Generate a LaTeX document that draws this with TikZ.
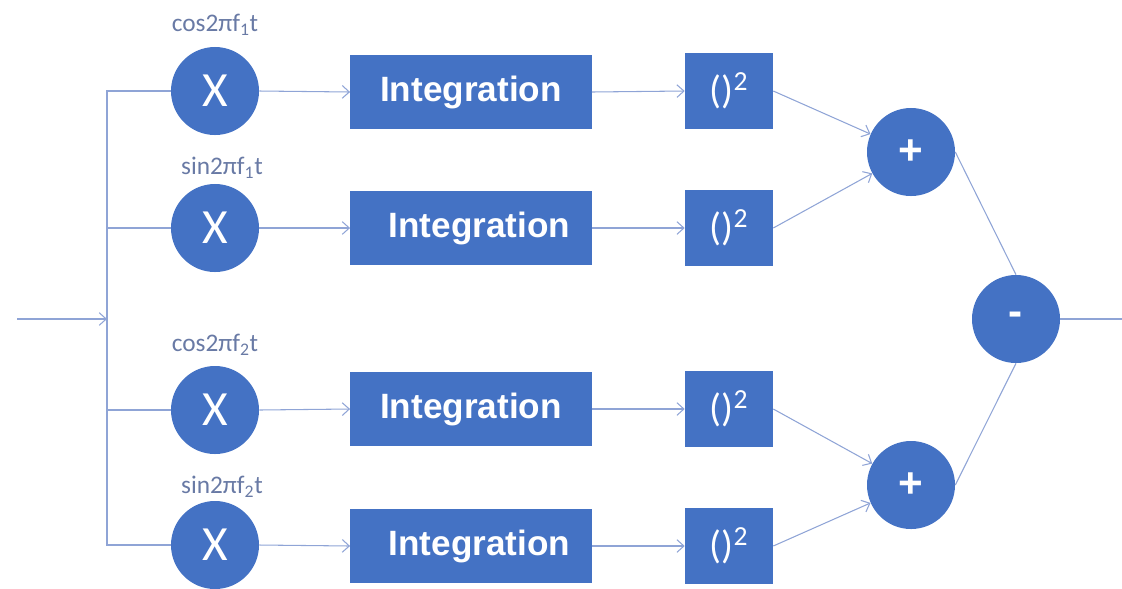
\documentclass[tikz,border=0pt]{standalone}
\usepackage{fontspec}
\setmainfont{Carlito}
\newfontfamily\blockfont{Liberation Sans}
\usetikzlibrary{arrows.meta, positioning}
\definecolor{blockblue}{RGB}{68,114,196}
\definecolor{wireblue}{RGB}{143,164,214}
\definecolor{labelgray}{RGB}{105,122,165}

\begin{document}
\begin{tikzpicture}[x=0.025cm, y=-0.025cm,
  mult/.style={circle, fill=blockblue, minimum size=2.2cm, inner sep=0pt, text=white, font=\fontsize{35}{35}\selectfont},
  sumnode/.style={mult, font=\blockfont\bfseries\fontsize{30}{30}\selectfont},
  integ/.style={rectangle, fill=blockblue, minimum width=6.03cm, minimum height=1.85cm, text=white, font=\blockfont\bfseries\fontsize{25}{25}\selectfont},
  sqbox/.style={rectangle, fill=blockblue, minimum width=2.2cm, minimum height=1.9cm, text=white, font=\fontsize{28}{28}\selectfont},
  carrier/.style={text=labelgray, font=\fontsize{18}{18}\selectfont},
  wire/.style={draw=wireblue, line width=0.75pt},
  feed/.style={wire, -{Straight Barb[length=5pt, width=9pt]}},
]
\useasboundingbox (0,0) rectangle (1122,588);

% Mixers
\node[mult] (m1) at (215,91) {X};
\node[mult] (m2) at (215,228) {X};
\node[mult] (m3) at (215,410) {X};
\node[mult] (m4) at (215,545) {X};

% Carrier labels
\node[carrier] (c1) at (215,25) {cos2πf\textsubscript{1}t};
\node[carrier] (c2) at (222,168) {sin2πf\textsubscript{1}t};
\node[carrier] (c3) at (215,345) {cos2πf\textsubscript{2}t};
\node[carrier] (c4) at (222,487) {sin2πf\textsubscript{2}t};

% Integrators
\node[integ] (i1) at (471,92) {Integration};
\node[integ] (i2) at (471,228) {\hspace{12pt}Integration};
\node[integ] (i3) at (471,409) {Integration};
\node[integ] (i4) at (471,546) {\hspace{12pt}Integration};

% Squarers
\node[sqbox] (s1) at (729,91) {()\textsuperscript{2}};
\node[sqbox] (s2) at (729,228) {()\textsuperscript{2}};
\node[sqbox] (s3) at (729,409) {()\textsuperscript{2}};
\node[sqbox] (s4) at (729,546) {()\textsuperscript{2}};

% Adders and subtractor
\node[sumnode] (p1) at (911,152) {+};
\node[sumnode] (p2) at (911,485) {+};
\node[sumnode] (d) at (1016,319) {-};

% Branch points
\coordinate (in) at (17,319);
\coordinate (j) at (107,319);
\coordinate (b1) at (107,91);
\coordinate (b2) at (107,228);
\coordinate (b3) at (107,410);
\coordinate (b4) at (107,545);
\coordinate (out) at (1122,319);

% Input and splitter
\draw[feed] (in) -- (j);
\draw[wire] (m1.west) -- (b1) -- (b4) -- (m4.west);
\draw[wire] (b2) -- (m2.west);
\draw[wire] (b3) -- (m3.west);

% Rows
\draw[feed] (m1.east) -- (i1.west);
\draw[feed] (m2.east) -- (i2.west);
\draw[feed] (m3.east) -- (i3.west);
\draw[feed] (m4.east) -- (i4.west);
\draw[feed] (i1.east) -- (s1.west);
\draw[feed] (i2.east) -- (s2.west);
\draw[feed] (i3.east) -- (s3.west);
\draw[feed] (i4.east) -- (s4.west);

% Summing
\draw[feed] (s1.east) -- (p1);
\draw[feed] (s2.east) -- (p1);
\draw[feed] (s3.east) -- (p2);
\draw[feed] (s4.east) -- (p2);
\draw[wire] (p1.east) -- (d.north);
\draw[wire] (p2.east) -- (d.south);
\draw[wire] (d.east) -- (out);
\end{tikzpicture}
\end{document}
